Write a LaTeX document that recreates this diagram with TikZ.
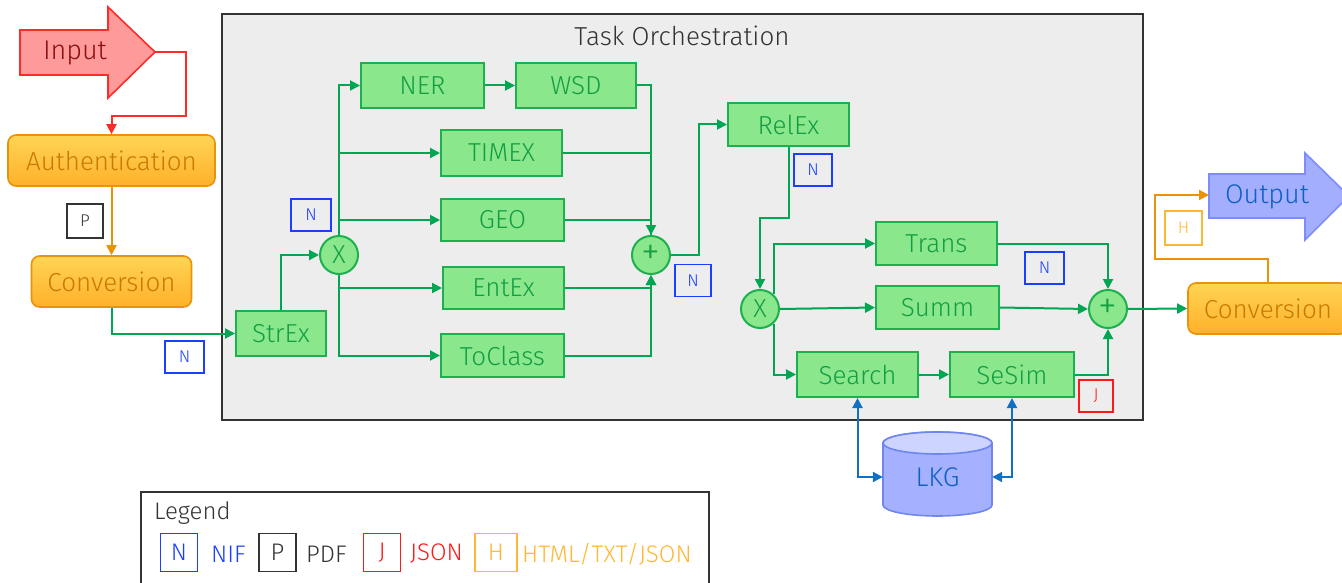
\documentclass[tikz,border=0pt]{standalone}
\usepackage{fontspec}
\setmainfont{Fira Sans Light}
\usetikzlibrary{arrows.meta,calc}
\newcommand\myfs[1]{\fontsize{#1}{#1}\selectfont}
\definecolor{gfill}{HTML}{8BE78B}
\definecolor{gline}{HTML}{1DB04F}
\definecolor{gtext}{HTML}{139E45}
\definecolor{gconn}{HTML}{00A651}
\definecolor{oline}{HTML}{E8930C}
\definecolor{otop}{HTML}{FFD454}
\definecolor{obot}{HTML}{FFB12B}
\definecolor{otext}{HTML}{C97A00}
\definecolor{infill}{HTML}{FF9A9A}
\definecolor{inline}{HTML}{FF2A2A}
\definecolor{intext}{HTML}{8B1010}
\definecolor{outfill}{HTML}{A3AEFF}
\definecolor{outline}{HTML}{7C8CFF}
\definecolor{outtext}{HTML}{1060C0}
\definecolor{orchfill}{HTML}{EDEDED}
\definecolor{orchline}{HTML}{333333}
\definecolor{bconn}{HTML}{1071C4}
\definecolor{lkgfill}{HTML}{A5B1FF}
\definecolor{lkgtop}{HTML}{CDD4FF}
\definecolor{lkgline}{HTML}{6F86F0}
\definecolor{nblue}{HTML}{1A3FFF}
\definecolor{pgray}{HTML}{333333}
\definecolor{jred}{HTML}{FF1A1A}
\definecolor{hyel}{HTML}{FFB833}
\tikzset{
  task/.style={draw=gline, fill=gfill, line width=2pt, text=gtext, inner sep=0pt, font=\myfs{26}},
  op/.style={circle, draw=gline, fill=gfill, line width=2pt, text=gtext, minimum size=38pt, inner sep=0pt, font=\myfs{26}},
  proc/.style={draw=oline, rounded corners=8pt, top color=otop, bottom color=obot, line width=1.6pt, text=otext, inner sep=0pt, font=\myfs{26}},
  lab/.style={draw, line width=1.6pt, minimum width=38pt, minimum height=32pt, inner sep=0pt, font=\myfs{17}},
  leg/.style={draw, line width=1.6pt, minimum width=37pt, minimum height=38pt, inner sep=0pt, font=\myfs{24}},
  legtxt/.style={anchor=west, inner sep=0pt, font=\myfs{24}},
  arr/.style={-{Triangle[length=10pt,width=10pt]}},
  gc/.style={draw=gconn, line width=2pt},
  oc/.style={draw=oline, line width=2pt},
  rc/.style={draw=inline, line width=2pt},
  bc/.style={draw=bconn, line width=2pt, {Triangle[length=10pt,width=10pt]}-{Triangle[length=10pt,width=10pt]}},
}
\begin{document}
\begin{tikzpicture}[x=1pt,y=-1pt]
\clip (0,0) rectangle (1342,583);
\fill[white] (0,0) rectangle (1342,583);
% orchestration box
\draw[fill=orchfill, draw=orchline, line width=1.8pt] (222,14) rectangle (1143,420);
\node[text=orchline, font=\myfs{26}] (title) at (682,36) {Task Orchestration};
% Input arrow
\draw[fill=infill, draw=inline, line width=1.6pt] (20,30) -- (108,30) -- (108,7) -- (155,52) -- (108,98) -- (108,75) -- (20,75) -- cycle;
\coordinate (intip) at (155,52);
\node[text=intext, font=\myfs{27}] (input) at (75,53) {Input};
% Output arrow
\draw[fill=outfill, draw=outline, line width=1.6pt] (1209,174) -- (1305,174) -- (1305,153) -- (1349,196) -- (1305,240) -- (1305,218) -- (1209,218) -- cycle;
\coordinate (outw) at (1209,195);
\node[text=outtext, font=\myfs{27}] (output) at (1267,197) {Output};
% processes
\node[proc, minimum width=207pt, minimum height=51pt] (auth) at (111.5,160.5) {Authentication};
\node[proc, minimum width=160pt, minimum height=51pt] (conv1) at (111.5,281.5) {Conversion};
\node[proc, minimum width=160pt, minimum height=51pt] (conv2) at (1268,308.5) {Conversion};
% tasks
\node[task, minimum width=90pt, minimum height=45pt] (strex) at (281,333.5) {StrEx};
\node[op] (x1) at (339,255) {X};
\node[task, minimum width=123pt, minimum height=45pt] (ner) at (422.5,85.5) {NER};
\node[task, minimum width=120pt, minimum height=45pt] (wsd) at (576,85.5) {WSD};
\node[task, minimum width=121pt, minimum height=46pt] (timex) at (501.5,153) {TIMEX};
\node[task, minimum width=123pt, minimum height=42pt] (geo) at (502.5,220) {GEO};
\node[task, minimum width=121pt, minimum height=42pt] (entex) at (503.5,288) {EntEx};
\node[task, minimum width=123pt, minimum height=43pt] (toclass) at (502.5,355.5) {ToClass};
\node[op, font=\myfs{38}] (p1) at (651,255) {+};
\node[task, minimum width=121pt, minimum height=43pt] (relex) at (788.5,124.5) {RelEx};
\node[op] (x2) at (760,309) {X};
\node[task, minimum width=121pt, minimum height=43pt] (trans) at (936.5,243.5) {Trans};
\node[task, minimum width=123pt, minimum height=43pt] (summ) at (937.5,307.5) {Summ};
\node[task, minimum width=121pt, minimum height=45pt] (search) at (857.5,374.5) {Search};
\node[task, minimum width=124pt, minimum height=45pt] (sesim) at (1012,374.5) {SeSim};
\node[op, font=\myfs{38}] (p2) at (1108,309) {+};
% LKG cylinder
\path[fill=lkgfill, draw=lkgline, line width=1.6pt] (883,443) -- (883,505) arc[start angle=180, end angle=360, x radius=54.5pt, y radius=11pt] -- (992,443) arc[start angle=0, end angle=180, x radius=54.5pt, y radius=11pt] -- cycle;
\path[fill=lkgtop, draw=lkgline, line width=1.6pt] (937.5,443) ellipse[x radius=54.5pt, y radius=11pt];
\node[minimum width=109pt, inner sep=0pt, text=outtext, font=\myfs{27}] (lkg) at (937.5,477) {LKG};
% connectors
\draw[rc, arr] (intip) -- ++(31,0) -- ++(0,64) -| (auth.north);
\draw[oc, arr] (auth.south) -- (conv1.north);
\draw[gc, arr] (conv1.south) |- (strex.west);
\draw[gc, arr] (strex.north) |- (x1.west);
\draw[gc, arr] (x1.north) |- (ner.west);
\draw[gc, arr] (x1.north) |- (timex.west);
\draw[gc, arr] (x1.north) |- (geo.west);
\draw[gc, arr] (x1.south) |- (entex.west);
\draw[gc, arr] (x1.south) |- (toclass.west);
\draw[gc, arr] (ner.east) -- (wsd.west);
\draw[gc, arr] (wsd.east) -| (p1.north);
\draw[gc] (timex.east) -| (p1.north);
\draw[gc] (geo.east) -| (p1.north);
\draw[gc, arr] (entex.east) -| (p1.south);
\draw[gc, arr] (toclass.east) -| (p1.south);
\draw[gc, arr] (p1.east) -- ++(28,0) |- (relex.west);
\draw[gc, arr] (relex.south) -- ++(0,71) -| (x2.north);
\draw[gc, arr] (x2.47) |- (trans.west);
\draw[gc, arr] (x2.east) -- (summ.west);
\draw[gc, arr] (x2.-47) |- (search.west);
\draw[gc, arr] (search.east) -- (sesim.west);
\draw[gc, arr] (trans.east) -| (p2.north);
\draw[gc, arr] (summ.east) -- (p2.west);
\draw[gc, arr] (sesim.east) -| (p2.south);
\draw[gc, arr] (p2.east) -- (conv2.west);
\draw[oc, arr] (conv2.north) -- ++(0,-23) -- ++(-113,0) |- (outw);
\draw[bc] (search.south) |- (lkg.west);
\draw[bc] (sesim.south) |- (lkg.east);
% format labels
\node[lab, draw=pgray, text=pgray, minimum width=36pt, minimum height=34pt] (lp) at (85,221) {P};
\node[lab, draw=nblue, text=nblue, minimum width=39pt] (ln1) at (184.5,357) {N};
\node[lab, draw=nblue, text=nblue, minimum width=40pt] (ln2) at (311,215) {N};
\node[lab, draw=nblue, text=nblue, minimum width=36pt] (ln3) at (693,280.5) {N};
\node[lab, draw=nblue, text=nblue] (ln4) at (813,170) {N};
\node[lab, draw=nblue, text=nblue, minimum width=39pt] (ln5) at (1044.5,268) {N};
\node[lab, draw=jred, text=jred, minimum width=34pt] (lj) at (1096,396) {J};
\node[lab, draw=hyel, text=hyel, minimum width=37pt, minimum height=34pt] (lh) at (1183.5,228) {H};
% legend
\draw[draw=orchline, line width=1.8pt] (141,492) rectangle (709,600);
\node[legtxt, text=orchline] (legt) at (154,513) {Legend};
\node[leg, draw=nblue, text=nblue] (kn) at (179,552.5) {N};
\node[legtxt, text=nblue] (kntxt) at (211,554) {NIF};
\node[leg, draw=pgray, text=pgray] (kp) at (277.5,552.5) {P};
\node[legtxt, text=pgray] (kptxt) at (306,554) {PDF};
\node[leg, draw=jred, text=jred] (kj) at (382,552.5) {J};
\node[legtxt, text=jred] (kjtxt) at (410,554) {JSON};
\node[leg, draw=hyel, text=hyel, minimum width=42pt] (kh) at (496,552.5) {H};
\node[legtxt, text=hyel] (khtxt) at (522,554) {HTML/TXT/JSON};
\end{tikzpicture}
\end{document}
